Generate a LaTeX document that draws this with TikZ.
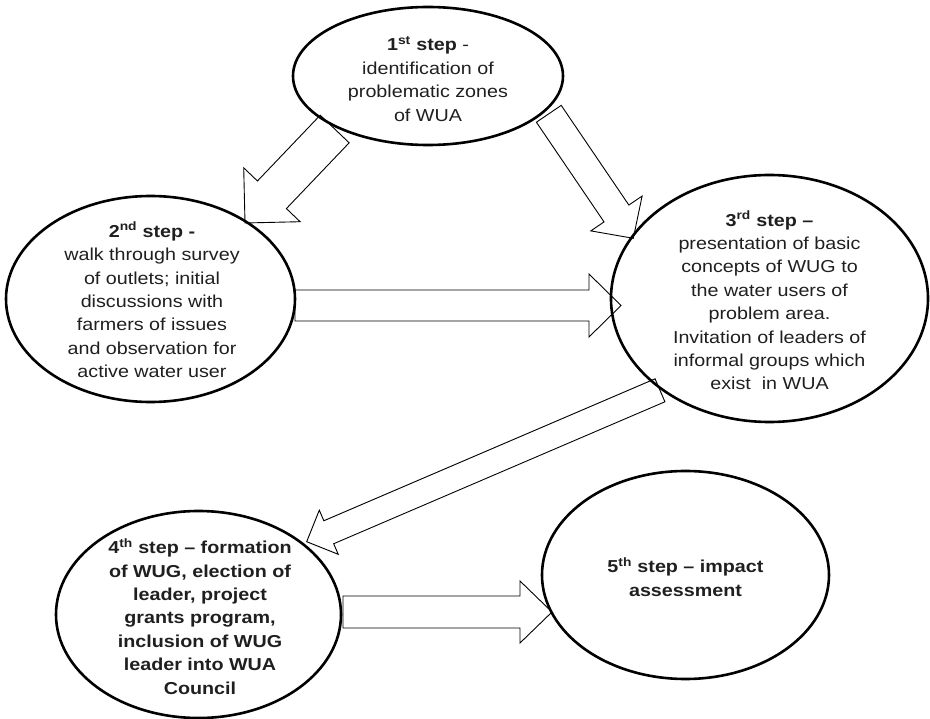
\documentclass[tikz,border=0pt]{standalone}
\usepackage{fontspec}
\setmainfont{Liberation Sans}[FakeStretch=1.14]
\usetikzlibrary{calc,shapes.geometric}
\tikzset{
  stepell/.style={draw=black, line width=2.6pt, ellipse, inner sep=0pt},
  steptext/.style={align=center, font=\fontsize{17.3}{23.4}\selectfont, text=black!88, inner sep=0pt},
  barrow/.style={draw=black, fill=white, line width=0.9pt, line join=miter},
}
\newcommand\blockarr[5]{%
  \path ($(#2)!#5!(#1)$) coordinate (hb);
  \draw[barrow] ($(#1)!#3!90:(#2)$) -- ($(hb)!#3!90:(#2)$) -- ($(hb)!#4!90:(#2)$) -- (#2)
     -- ($(hb)!#4!-90:(#2)$) -- ($(hb)!#3!-90:(#2)$) -- ($(#1)!#3!-90:(#2)$) -- cycle;}
\begin{document}
\begin{tikzpicture}[x=1pt,y=-1pt]
\useasboundingbox (0,0) rectangle (930,719);
% arrow end points
\coordinate (aAs) at (334.7,129);
\coordinate (aAt) at (245,223);
\coordinate (aBs) at (548.8,113.8);
\coordinate (aBt) at (633.3,238.3);
\coordinate (aCs) at (295,305.5);
\coordinate (aCt) at (621,305.5);
\coordinate (aDs) at (660,390.3);
\coordinate (aDt) at (306.7,541.7);
\coordinate (aEs) at (343,612);
\coordinate (aEt) at (552,612);
% block arrows
\blockarr{aAs}{aAt}{20pt}{39pt}{39pt}
\blockarr{aBs}{aBt}{15pt}{31pt}{30pt}
\blockarr{aCs}{aCt}{15.5pt}{31.5pt}{32pt}
\blockarr{aDs}{aDt}{12.5pt}{24pt}{24pt}
\blockarr{aEs}{aEt}{16pt}{31pt}{32pt}
% ellipses
\node[stepell, minimum width=270pt, minimum height=138pt] (e1) at (428,76) {};
\node[stepell, minimum width=289pt, minimum height=206pt] (e2) at (150.5,299) {};
\node[stepell, minimum width=317pt, minimum height=247pt] (e3) at (769.5,298.5) {};
\node[stepell, minimum width=285pt, minimum height=207pt] (e4) at (198.5,614.5) {};
\node[stepell, minimum width=287pt, minimum height=208pt] (e5) at (685.5,575) {};
% texts
\node[steptext] (t1) at ($(e1.center)+(0,3)$) {\textbf{1\textsuperscript{st} step} -\\identification of\\problematic zones\\of WUA};
\node[steptext] (t2) at ($(e2.center)+(1.5,1)$) {\textbf{2\textsuperscript{nd} step -}\\walk through survey\\of outlets; initial\\discussions with\\farmers of issues\\and observation for\\active water user};
\node[steptext] (t3) at ($(e3.center)+(0,2)$) {\textbf{3\textsuperscript{rd} step –}\\presentation of basic\\concepts of WUG to\\the water users of\\problem area.\\Invitation of leaders of\\informal groups which\\exist\ \ in WUA};
\node[steptext] (t4) at ($(e4.center)+(1.5,2)$) {\textbf{4\textsuperscript{th} step – formation}\\\textbf{of WUG, election of}\\\textbf{leader, project}\\\textbf{grants program,}\\\textbf{inclusion of WUG}\\\textbf{leader into WUA}\\\textbf{Council}};
\node[steptext] (t5) at ($(e5.center)+(0,2)$) {\textbf{5\textsuperscript{th} step – impact}\\\textbf{assessment}};
\end{tikzpicture}
\end{document}
